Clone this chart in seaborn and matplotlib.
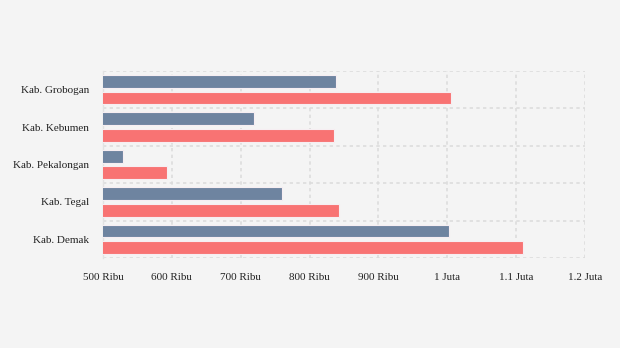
import matplotlib
matplotlib.use("Agg")
import matplotlib.pyplot as plt
import seaborn as sns
import pandas as pd
import numpy as np
from matplotlib.ticker import FixedLocator

categories = ["Kab. Grobogan", "Kab. Kebumen", "Kab. Pekalongan", "Kab. Tegal", "Kab. Demak"]
series_names = ["A", "B"]
series_a = [838000, 719000, 529000, 760000, 1002000]
series_b = [1005000, 835000, 593000, 843000, 1110000]
x_ticks = [500000, 600000, 700000, 800000, 900000, 1000000, 1100000, 1200000]
x_labels = ["500 Ribu", "600 Ribu", "700 Ribu", "800 Ribu", "900 Ribu", "1 Juta", "1.1 Juta", "1.2 Juta"]

df = pd.DataFrame({
    "cat": categories * 2,
    "val": series_a + series_b,
    "series": [series_names[0]] * len(categories) + [series_names[1]] * len(categories),
})

sns.set_style("white")
plt.rcParams["font.family"] = ["Liberation Serif", "DejaVu Serif"]

fig = plt.figure(figsize=(6.2, 3.48), dpi=100)
fig.patch.set_facecolor("#f4f4f4")
ax = fig.add_axes([103 / 620, 1 - 258 / 348, (585 - 103) / 620, (258 - 71) / 348])
ax.set_facecolor("#f4f4f4")

sns.barplot(data=df, x="val", y="cat", hue="series", orient="h", ax=ax,
            palette=["#6e84a0", "#f87373"], saturation=1, width=0.89, gap=0.24,
            edgecolor="#f6eef2", linewidth=0.8, legend=False, zorder=3)

ax.set_xlim(500000, 1200000)
ax.set_ylim(4.5, -0.5)
ax.set_xticks(x_ticks)
ax.set_xticklabels(x_labels, fontsize=8, color="#222222")
ax.yaxis.set_minor_locator(FixedLocator(np.arange(-0.5, 5.0, 1.0)))
ax.tick_params(axis="y", which="major", length=4, width=1, color="#dddddd",
               labelsize=8, labelcolor="#222222", pad=6)
ax.tick_params(axis="y", which="minor", length=0)
ax.tick_params(axis="x", length=0, pad=11)
ax.grid(False)
ax.grid(True, axis="x", which="major", color="#dcdcdc", linestyle=(0, (2, 2)), linewidth=1.2, zorder=0)
ax.grid(True, axis="y", which="minor", color="#dcdcdc", linestyle=(0, (2, 2)), linewidth=1.2, zorder=0)
ax.set_axisbelow(True)
for s in ax.spines.values():
    s.set_visible(False)
ax.spines["left"].set_visible(True)
ax.spines["left"].set_color("#e2e2e2")
ax.spines["left"].set_linewidth(1)
ax.set_xlabel("")
ax.set_ylabel("")

fig.savefig("out.png", dpi=100, facecolor=fig.get_facecolor())
